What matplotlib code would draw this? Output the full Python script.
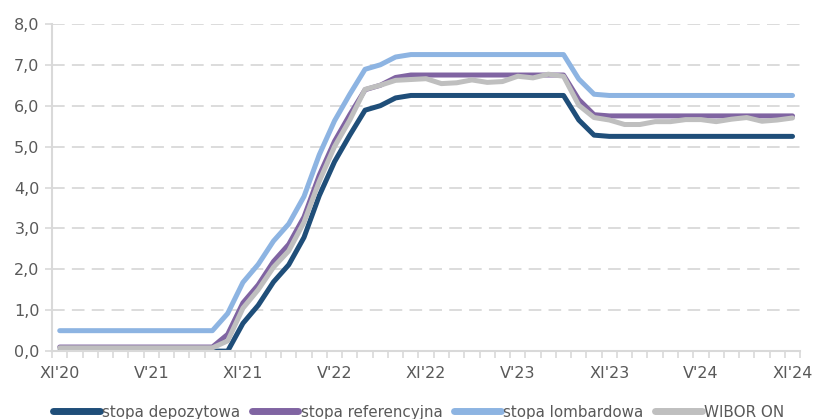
import numpy as np
import matplotlib.pyplot as plt
from matplotlib.ticker import FuncFormatter, MultipleLocator

plt.rcParams['font.family'] = ['Liberation Sans Narrow', 'DejaVu Sans']

# miesiace XI'20 .. XI'24 (srednie miesieczne)
etykiety = ["XI'20", "V'21", "XI'21", "V'22", "XI'22", "V'23", "XI'23", "V'24", "XI'24"]

stopa_depozytowa = [0.0] * 12 + [
    0.68, 1.12, 1.69, 2.11, 2.78, 3.80, 4.63, 5.28, 5.89, 6.00, 6.19,
    6.25, 6.25, 6.25, 6.25, 6.25, 6.25, 6.25, 6.25, 6.25, 6.25, 6.25,
    5.65, 5.28] + [5.25] * 13

stopa_referencyjna = [0.10] * 11 + [
    0.41, 1.18, 1.62, 2.19, 2.61, 3.28, 4.30, 5.13, 5.78, 6.39, 6.50, 6.69,
    6.75, 6.75, 6.75, 6.75, 6.75, 6.75, 6.75, 6.75, 6.75, 6.75, 6.75,
    6.15, 5.78] + [5.75] * 13

stopa_lombardowa = [0.50] * 11 + [
    0.92, 1.68, 2.12, 2.69, 3.11, 3.78, 4.80, 5.63, 6.28, 6.89, 7.00, 7.19,
    7.25, 7.25, 7.25, 7.25, 7.25, 7.25, 7.25, 7.25, 7.25, 7.25, 7.25,
    6.65, 6.28] + [6.25] * 13

wibor_on = [0.08] * 11 + [
    0.25, 1.05, 1.50, 2.05, 2.45, 3.15, 4.15, 5.00, 5.65, 6.40, 6.50, 6.62,
    6.64, 6.66, 6.54, 6.56, 6.63, 6.57, 6.59, 6.72, 6.68, 6.77, 6.72,
    6.01, 5.71, 5.65, 5.54, 5.54, 5.61, 5.61, 5.66, 5.66, 5.61, 5.67,
    5.71, 5.62, 5.65, 5.70]

serie = [
    ('stopa depozytowa', stopa_depozytowa, '#1F4E79'),
    ('stopa referencyjna', stopa_referencyjna, '#8064A2'),
    ('stopa lombardowa', stopa_lombardowa, '#8DB4E2'),
    ('WIBOR ON', wibor_on, '#BFBFBF'),
]

fig = plt.figure(figsize=(8.14, 4.19), dpi=100)
ax = fig.add_axes([0.064, 0.162, 0.919, 0.781])

x = np.arange(len(stopa_depozytowa))
for nazwa, y, kolor in serie:
    ax.plot(x, y, color=kolor, lw=3.6, label=nazwa,
            solid_capstyle='round', solid_joinstyle='round')

ax.set_xlim(-0.5, len(x) - 0.5)
ax.set_ylim(0, 8)
ax.yaxis.set_major_locator(MultipleLocator(1))
ax.yaxis.set_major_formatter(FuncFormatter(lambda v, p: f'{v:.1f}'.replace('.', ',')))
ax.grid(axis='y', color='#D9D9D9', lw=1.3, ls=(0, (7, 4)))
ax.set_axisbelow(True)

ax.set_xticks(np.arange(0, len(x), 6))
ax.set_xticklabels(etykiety)
ax.set_xticks(np.arange(-0.5, len(x), 1), minor=True)
ax.tick_params(axis='x', which='major', length=0, pad=11, labelsize=11.5, labelcolor='#595959')
ax.tick_params(axis='x', which='minor', length=5, width=1.2, color='#D9D9D9')
ax.tick_params(axis='y', length=5, width=1.2, color='#D9D9D9', labelsize=11.5,
               labelcolor='#595959', pad=4)

for s in ['top', 'right']:
    ax.spines[s].set_visible(False)
for s in ['left', 'bottom']:
    ax.spines[s].set_color('#D9D9D9')
    ax.spines[s].set_linewidth(1.5)

leg = fig.legend(loc='center', bbox_to_anchor=(0.514, 0.016), ncol=4, frameon=False,
                 fontsize=10.9, handlelength=3.1, handletextpad=0.15, columnspacing=0.75,
                 labelcolor='#595959')
for h in leg.get_lines():
    h.set_linewidth(5)

fig.savefig('out.png', dpi=100)
